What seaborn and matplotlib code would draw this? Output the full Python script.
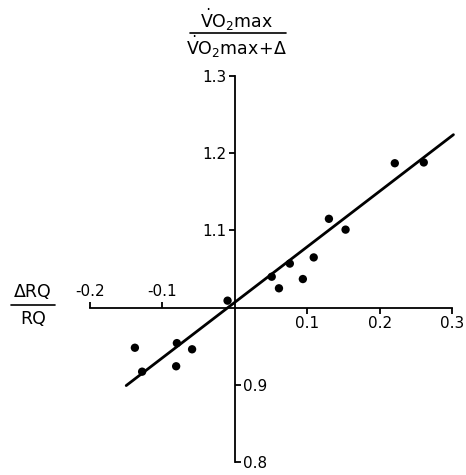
import matplotlib
matplotlib.use("Agg")
import matplotlib.pyplot as plt
import seaborn as sns
import pandas as pd
from matplotlib.lines import Line2D

# data
delta_rq = [-0.138, -0.128, -0.080, -0.081, -0.059, -0.010, 0.051, 0.061, 0.076,
            0.094, 0.109, 0.130, 0.153, 0.221, 0.261]
vo2_ratio = [0.948, 0.917, 0.954, 0.924, 0.946, 1.009, 1.040, 1.025, 1.057,
             1.037, 1.065, 1.115, 1.101, 1.187, 1.188]
fit_x = [-0.150, 0.302]
fit_y = [0.899, 1.224]
x_ticks = [-0.2, -0.1, 0.1, 0.2, 0.3]
x_tick_labels = ["-0.2", "-0.1", "0.1", "0.2", "0.3"]
y_ticks = [0.8, 0.9, 1.1, 1.2, 1.3]
y_tick_labels = ["0.8", "0.9", "1.1", "1.2", "1.3"]

sns.set_theme(style="white")
plt.rcParams['font.family'] = ['DejaVu Sans']
plt.rcParams['mathtext.fontset'] = 'dejavusans'
plt.rcParams['text.color'] = 'black'

fig = plt.figure(figsize=(4.66, 4.75), dpi=100)
W, H = 466, 475
ax = fig.add_axes([90 / W, 1 - 462 / H, (452 - 90) / W, (462 - 76) / H])

df = pd.DataFrame({"x": delta_rq, "y": vo2_ratio})
sns.scatterplot(data=df, x="x", y="y", ax=ax, color="black", s=36,
                edgecolor="none", clip_on=False, zorder=3)
sns.lineplot(x=fit_x, y=fit_y, ax=ax, color="black", linewidth=2.0,
             clip_on=False, zorder=2)

ax.set_xlim(-0.2, 0.3)
ax.set_ylim(0.8, 1.3)
ax.set_xlabel("")
ax.set_ylabel("")

for side in ["left", "right"]:
    ax.spines[side].set_position(("data", 0))
for side in ["bottom", "top"]:
    ax.spines[side].set_position(("data", 1.0))
for side in ["left", "bottom"]:
    ax.spines[side].set_color("black")
    ax.spines[side].set_linewidth(1.3)
ax.spines["right"].set_visible(False)
ax.spines["top"].set_visible(False)

ax.set_xticks(x_ticks)
ax.set_xticklabels(x_tick_labels)
ax.set_yticks(y_ticks)
ax.set_yticklabels(y_tick_labels)
ax.tick_params(axis="both", direction="out", length=4, width=1.3, color="black",
               labelsize=11, labelcolor="black", pad=2,
               bottom=True, top=True, left=True, right=True,
               labelbottom=True, labeltop=True, labelleft=True, labelright=True)

for v, t in zip(x_ticks, ax.xaxis.get_major_ticks()):
    below = v > 0
    t.tick1line.set_visible(below)
    t.label1.set_visible(below)
    t.tick2line.set_visible(not below)
    t.label2.set_visible(not below)
for v, t in zip(y_ticks, ax.yaxis.get_major_ticks()):
    left = v > 1.0
    t.tick1line.set_visible(left)
    t.label1.set_visible(left)
    t.tick2line.set_visible(not left)
    t.label2.set_visible(not left)

# top axis title (fraction)
fs = 12.5
fig.text(237 / W, 1 - 20 / H, r"$\mathregular{\dot{V}O_2max}$", ha="center", va="center",
         fontsize=fs, color="black")
fig.text(237 / W, 1 - 47 / H, r"$\mathregular{\dot{V}O_2max\!+\!\Delta}$", ha="center", va="center",
         fontsize=fs, color="black")
fig.add_artist(Line2D([190 / W, 286 / W], [1 - 33 / H, 1 - 33 / H], color="black", lw=1.2))

# left axis title (fraction)
fig.text(33 / W, 1 - 292 / H, "ΔRQ", ha="center", va="center", fontsize=fs, color="black")
fig.text(33 / W, 1 - 319 / H, "RQ", ha="center", va="center", fontsize=fs, color="black")
fig.add_artist(Line2D([11 / W, 55 / W], [1 - 305 / H, 1 - 305 / H], color="black", lw=1.2))

fig.savefig("out.png", dpi=100)
